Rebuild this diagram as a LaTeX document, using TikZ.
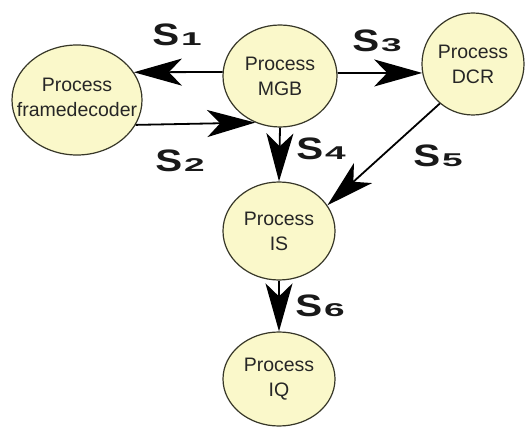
\documentclass[tikz,border=0pt]{standalone}
\usepackage{graphicx}
\usepackage{fontspec}
\setmainfont{Liberation Sans}
\usetikzlibrary{arrows.meta,shapes.geometric}
\definecolor{procfill}{RGB}{250,248,202}
\definecolor{procline}{RGB}{55,55,40}
\tikzset{
  proc/.style={ellipse, draw=procline, line width=1.2pt, fill=procfill, inner sep=0pt},
  ptext/.style={align=center, font=\fontsize{19.5}{25}\selectfont, text=black!85, inner sep=0pt},
  flow/.style={line width=1.8pt, -{Stealth[length=48pt, width=27pt, inset=13pt]}},
  slabel/.style={inner sep=0pt, text=black!90}
}
\newcommand{\sig}[1]{\scalebox{1.3}[1]{\fontsize{31}{31}\selectfont\bfseries S}\hspace{2pt}\scalebox{2.0}[1]{\fontsize{18.5}{18.5}\selectfont\bfseries #1}}
\begin{document}
\begin{tikzpicture}[x=1pt,y=-1pt]
\useasboundingbox (0,0) rectangle (530,430);
\fill[white] (0,0) rectangle (530,430);

\node[proc, minimum width=130pt, minimum height=110pt] (fd) at (77,100) {};
\node[proc, minimum width=114pt, minimum height=102pt] (mgb) at (280,76) {};
\node[proc, minimum width=102pt, minimum height=102pt] (dcr) at (473,64) {};
\node[proc, minimum width=112pt, minimum height=98pt] (is) at (279,231) {};
\node[proc, minimum width=112pt, minimum height=94pt] (iq) at (279,379) {};

\node[ptext] (fdt) at ([yshift=3pt]fd.center) {Process\\framedecoder};
\node[ptext] (mgbt) at (mgb) {Process\\MGB};
\node[ptext] (dcrt) at (dcr) {Process\\DCR};
\node[ptext] (ist) at (is) {Process\\IS};
\node[ptext] (iqt) at (iq) {Process\\IQ};

\draw[flow] (mgb.176) -- (fd.26.6);
\draw[flow] (fd.-23.4) -- (mgb.242);
\draw[flow] (mgb.3) -- (dcr.190);
\draw[flow] (mgb.south) -- (is.north);
\draw[flow] (dcr.230) -- (is.28);
\draw[flow] (is.south) -- (iq.north);

\node[slabel] (s1) at (177,35) {\sig{1}};
\node[slabel] (s2) at (180,161) {\sig{2}};
\node[slabel] (s3) at (377,41) {\sig{3}};
\node[slabel] (s4) at (321,149) {\sig{4}};
\node[slabel] (s5) at (438,156) {\sig{5}};
\node[slabel] (s6) at (320,306) {\sig{6}};
\end{tikzpicture}
\end{document}
